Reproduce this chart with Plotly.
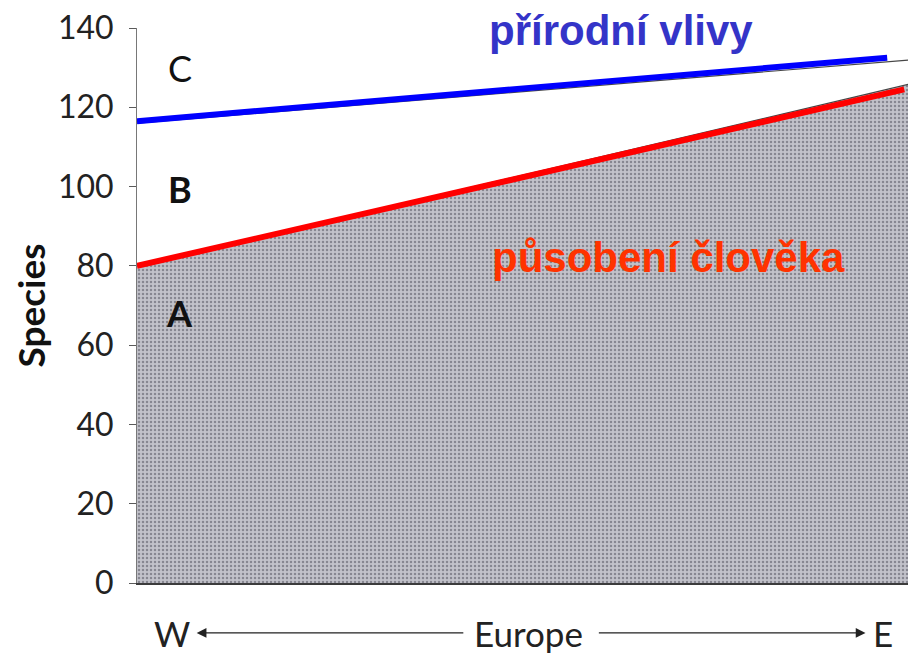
import plotly.graph_objects as go

# Data (relative position along W -> E transect: 0 = West, 1 = East)
region_x = [0, 1]
human_boundary = [80, 126]      # top of region A (grey area)
natural_boundary = [116, 132]   # top of region B
blue_x = [0, 0.968]
blue_y = [116.5, 132.5]         # "přírodní vlivy"
red_x = [0, 0.99]
red_y = [80, 124.5]             # "působení člověka"
y_ticks = [0, 20, 40, 60, 80, 100, 120, 140]
region_labels = ["C", "<b>B</b>", "<b>A</b>"]
region_label_y = [130, 99.5, 68]

FONT = "Lato, Century Gothic, DejaVu Sans, sans-serif"
PLOT_W = 775  # plot area width in px

fig = go.Figure()

# grey region A
fig.add_trace(go.Scatter(
    x=region_x, y=human_boundary, mode="lines", fill="tozeroy",
    fillcolor="rgb(185,185,193)",
    fillpattern=dict(shape=".", bgcolor="rgb(194,194,202)", fgcolor="rgb(135,135,145)",
                     size=4, solidity=0.3, fillmode="replace"),
    line=dict(color="rgb(70,70,70)", width=1.2),
    hoverinfo="skip", showlegend=False))
# upper thin boundary
fig.add_trace(go.Scatter(
    x=region_x, y=natural_boundary, mode="lines",
    line=dict(color="rgb(70,70,70)", width=1.2), hoverinfo="skip", showlegend=False))
# right frame
fig.add_trace(go.Scatter(
    x=[region_x[-1], region_x[-1]], y=[0, natural_boundary[-1]], mode="lines",
    line=dict(color="rgb(90,90,90)", width=1.5), hoverinfo="skip", showlegend=False))
# blue line
fig.add_trace(go.Scatter(
    x=blue_x, y=blue_y, mode="lines", line=dict(color="#0000ff", width=6),
    hoverinfo="skip", showlegend=False, cliponaxis=False))
# red line
fig.add_trace(go.Scatter(
    x=red_x, y=red_y, mode="lines", line=dict(color="#ff0000", width=6),
    hoverinfo="skip", showlegend=False, cliponaxis=False))

annotations = []
for lab, yv in zip(region_labels, region_label_y):
    annotations.append(dict(x=0.055, y=yv, xref="x", yref="y", text=lab, showarrow=False,
                            font=dict(family=FONT, size=36, color="#111"),
                            xanchor="center", yanchor="middle"))
annotations.append(dict(x=0.625, y=0.995, xref="paper", yref="paper", text="<b>přírodní vlivy</b>",
                        showarrow=False, xanchor="center", yanchor="middle",
                        font=dict(family="Liberation Sans, Arial", size=42, color="#3434c8")))
annotations.append(dict(x=0.686, y=82, xref="x", yref="y", text="<b>působení člověka</b>",
                        showarrow=False, xanchor="center", yanchor="middle",
                        font=dict(family="Liberation Sans, Arial", size=42, color="#ff3300")))
# x-axis caption
cap_y = -0.09
for txt, xp in [("Europe", 0.505), ("W", 0.045), ("E", 0.962)]:
    annotations.append(dict(x=xp, y=cap_y, xref="paper", yref="paper", text=txt,
                            showarrow=False, xanchor="center", yanchor="middle",
                            font=dict(family=FONT, size=35, color="#222")))
annotations.append(dict(x=0.077, y=cap_y, xref="paper", yref="paper",
                        ax=(0.423 - 0.077) * PLOT_W, ay=0,
                        text="", showarrow=True, arrowhead=2, arrowsize=1.5,
                        arrowwidth=1.3, arrowcolor="#222"))
annotations.append(dict(x=0.94, y=cap_y, xref="paper", yref="paper",
                        ax=-(0.94 - 0.594) * PLOT_W, ay=0,
                        text="", showarrow=True, arrowhead=2, arrowsize=1.5,
                        arrowwidth=1.3, arrowcolor="#222"))

fig.update_layout(
    width=908, height=647,
    margin=dict(l=129, r=4, t=20, b=72),
    plot_bgcolor="white", paper_bgcolor="white",
    annotations=annotations,
    xaxis=dict(range=[0, 1], showgrid=False, zeroline=False, showticklabels=False,
               showline=True, linecolor="rgb(60,60,60)", linewidth=2, ticks="",
               automargin=False),
    yaxis=dict(range=[0, 140], tickvals=y_ticks, showgrid=False, zeroline=False,
               showline=True, linecolor="rgb(120,120,120)", linewidth=1,
               ticks="outside", ticklen=7, tickcolor="rgb(90,90,90)",
               ticklabelstandoff=9, ticklabeloverflow="allow", automargin="left",
               tickfont=dict(family=FONT, size=32, color="#222"),
               title=dict(text="<b>Species</b>", font=dict(family=FONT, size=37, color="#111"),
                          standoff=12)),
)

fig.write_html("out.html")
